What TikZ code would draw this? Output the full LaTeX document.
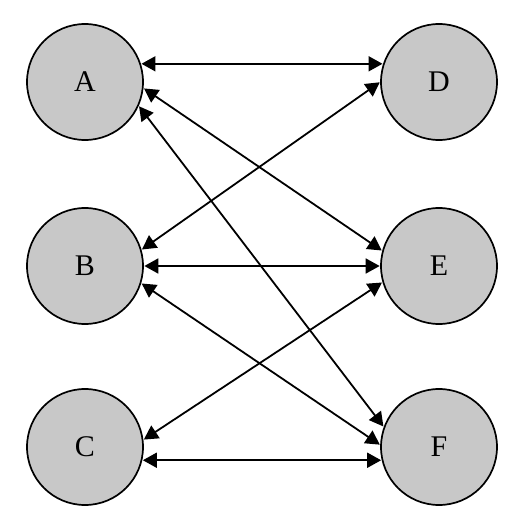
\documentclass[tikz,border=0pt]{standalone}
\usepackage{fontspec}
\setmainfont{Liberation Serif}
\usetikzlibrary{arrows.meta}
\definecolor{nodegray}{RGB}{200,200,200}
\begin{document}
\begin{tikzpicture}[x=1pt,y=-1pt,
  vert/.style={circle,draw=black,line width=1.7pt,fill=nodegray,minimum size=116pt,inner sep=0pt,font=\fontsize{30}{32}\selectfont},
  link/.style={line width=1.8pt,{Triangle[length=14pt,width=15pt]}-{Triangle[length=14pt,width=15pt]},shorten <=0.5pt,shorten >=0.5pt}]
\useasboundingbox (0,0) rectangle (516,518);
\node[vert] (A) at (85,82) {A};
\node[vert] (B) at (85,266) {B};
\node[vert] (C) at (85,447) {C};
\node[vert] (D) at (439,82) {D};
\node[vert] (E) at (439,266) {E};
\node[vert] (F) at (439,447) {F};
\draw[link] (A.18) -- (D.162);
\draw[link] (A.-6) -- (E.165);
\draw[link] (A.-24) -- (F.160);
\draw[link] (B.16) -- (D.180);
\draw[link] (B.0) -- (E.180);
\draw[link] (B.-17) -- (F.178);
\draw[link] (C.7) -- (E.196);
\draw[link] (C.-13) -- (F.193);
\end{tikzpicture}
\end{document}
